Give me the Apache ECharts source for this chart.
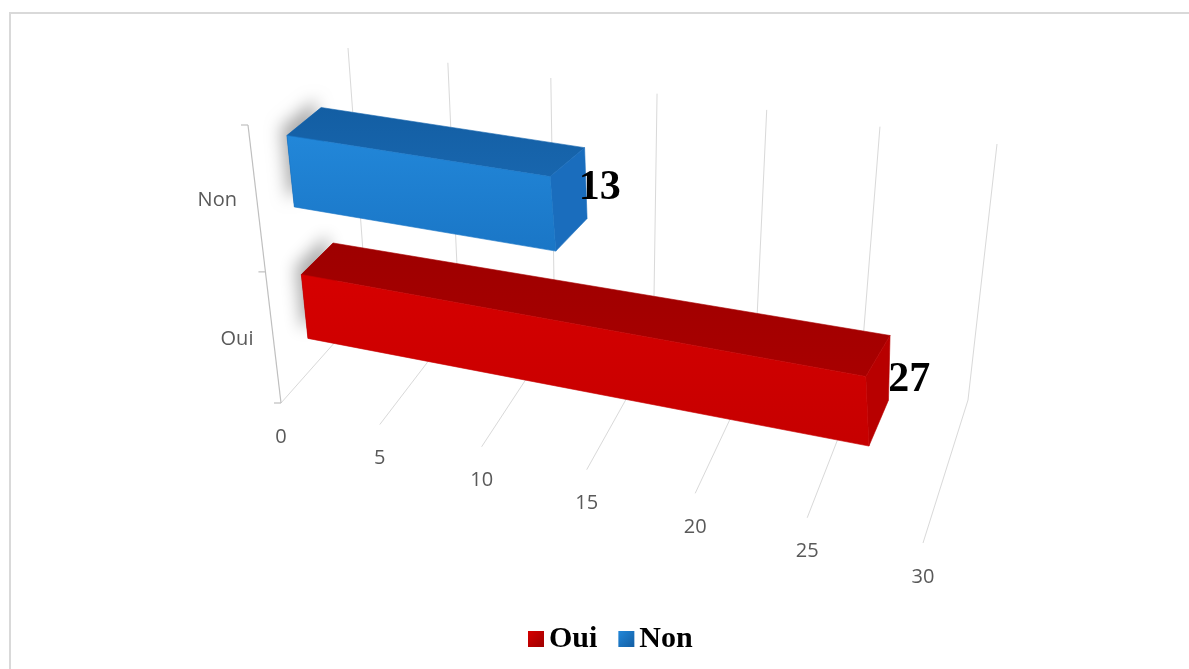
<!DOCTYPE html>
<html>
<head>
<meta charset="utf-8">
<script src="https://cdn.jsdelivr.net/npm/echarts@6/dist/echarts.min.js"></script>
<style>
  html, body { margin: 0; padding: 0; background: #ffffff; }
  #chart { width: 1189px; height: 669px; }
</style>
</head>
<body>
<div id="chart"></div>
<script>
// ---- data ----
const categories = ['Oui', 'Non'];
const values = [27, 13];
const valueTicks = [0, 5, 10, 15, 20, 25, 30];

// ---- look ----
const PALETTE = [
  { legend: '#c40000', front: ['#d60000', '#c60000'], top: ['#9e0000', '#a80000'], end: '#b80000' },
  { legend: '#1f7fd2', front: ['#2287d9', '#1a76c6'], top: ['#135ea3', '#1866ae'], end: '#1a6dbd' }
];
const AXIS_FONT = '20px "Open Sans", sans-serif';
const LABEL_FONT = 'bold 42px "Liberation Serif", "Times New Roman", serif';

// Screen positions of the eight corners of the 3D plot box.
// u: along the value axis (0..1), d: depth (0 front, 1 back wall), h: height (0 floor, 1 top).
const BOX = {
  u0d0h0: [281, 403], u0d0h1: [248, 125], u0d1h0: [367, 306], u0d1h1: [348, 48],
  u1d0h0: [923, 543], u1d0h1: [890, 222], u1d1h0: [968, 400], u1d1h1: [997, 144]
};
const DEPTH_U = 1.1;   // foreshortening along the value axis
const DEPTH_H = 1.12;  // foreshortening along the category axis
const BAR_FILL = 0.5;  // share of a category band taken by its bar
const BAR_DEPTH = [0.35, 0.7];

function foreshorten(t, k) { return t / (k - (k - 1) * t); }

function project(u, d, h) {
  const s = foreshorten(u, DEPTH_U);
  const t = foreshorten(h, DEPTH_H);
  const b = BOX;
  const terms = [
    [(1 - s) * (1 - d) * (1 - t), b.u0d0h0],
    [(1 - s) * (1 - d) * t, b.u0d0h1],
    [(1 - s) * d * (1 - t), b.u0d1h0],
    [(1 - s) * d * t, b.u0d1h1],
    [s * (1 - d) * (1 - t), b.u1d0h0],
    [s * (1 - d) * t, b.u1d0h1],
    [s * d * (1 - t), b.u1d1h0],
    [s * d * t, b.u1d1h1]
  ];
  let x = 0, y = 0;
  terms.forEach(([w, p]) => { x += w * p[0]; y += w * p[1]; });
  return [x, y];
}

// grid pixel -> unit box coordinates
function toUnit(cs, pt) {
  return [(pt[0] - cs.x) / cs.width, (cs.y + cs.height - pt[1]) / cs.height];
}

function renderValueGrid(params, api) {
  const cs = params.coordSys;
  const v = api.value(0);
  const u = toUnit(cs, api.coord([v, 0]))[0];
  const lineStyle = { stroke: '#d9d9d9', lineWidth: 1, fill: null };
  const base = project(u, 0, 0);
  return {
    type: 'group',
    children: [
      { type: 'polyline', shape: { points: [project(u, 1, 0), project(u, 1, 1)] }, style: lineStyle },
      { type: 'polyline', shape: { points: [base, project(u, 1, 0)] }, style: lineStyle },
      {
        type: 'text', x: base[0], y: base[1] + 34,
        style: { text: String(v), font: AXIS_FONT, fill: '#595959', align: 'center', verticalAlign: 'middle' }
      }
    ]
  };
}

function renderCategoryAxis(params, api) {
  const cs = params.coordSys;
  const idx = api.value(1);
  const hc = toUnit(cs, api.coord([0, idx]))[1];
  const half = api.size([0, 1])[1] / 2 / cs.height;
  const axisStyle = { stroke: '#bfbfbf', lineWidth: 1.2, fill: null };
  const tick = (h) => {
    const p = project(0, 0, h);
    return { type: 'polyline', shape: { points: [[p[0] - 7, p[1]], p] }, style: axisStyle };
  };
  const lp = project(0, 0, hc);
  const children = [
    tick(hc - half),
    {
      type: 'text', x: lp[0] - 20, y: lp[1],
      style: { text: categories[idx], font: AXIS_FONT, fill: '#595959', align: 'right', verticalAlign: 'middle' }
    }
  ];
  if (params.dataIndex === 0) {
    children.push({ type: 'polyline', shape: { points: [project(0, 0, 0), project(0, 0, 1)] }, style: axisStyle });
  }
  if (idx === categories.length - 1) {
    children.push(tick(hc + half));
  }
  return { type: 'group', children };
}

function vGrad(colors) {
  return new echarts.graphic.LinearGradient(0, 0, 0, 1, [
    { offset: 0, color: colors[0] }, { offset: 1, color: colors[1] }
  ]);
}

function renderBar(params, api) {
  const cs = params.coordSys;
  const v = api.value(0);
  const idx = api.value(1);
  const u0 = toUnit(cs, api.coord([0, idx]))[0];
  const end = toUnit(cs, api.coord([v, idx]));
  const u1 = end[0];
  const hc = end[1];
  const half = api.size([0, 1])[1] * BAR_FILL / 2 / cs.height;
  const h0 = hc - half, h1 = hc + half;
  const dF = BAR_DEPTH[0], dB = BAR_DEPTH[1];
  const pal = PALETTE[idx];
  const q = project;

  const frontPts = [q(u0, dF, h0), q(u1, dF, h0), q(u1, dF, h1), q(u0, dF, h1)];
  const topPts = [q(u0, dF, h1), q(u1, dF, h1), q(u1, dB, h1), q(u0, dB, h1)];
  const endPts = [q(u1, dF, h0), q(u1, dB, h0), q(u1, dB, h1), q(u1, dF, h1)];
  const startPts = [q(u0, dF, h0), q(u0, dB, h0), q(u0, dB, h1), q(u0, dF, h1)];
  const anchor = q(u1, (dF + dB) / 2, h0 + 0.65 * (h1 - h0));

  return {
    type: 'group',
    children: [
      {
        type: 'polygon', shape: { points: startPts },
        style: {
          fill: pal.top[0], shadowBlur: 16, shadowColor: 'rgba(0,0,0,0.32)',
          shadowOffsetX: -6, shadowOffsetY: -8
        }
      },
      { type: 'polygon', shape: { points: topPts }, style: { fill: vGrad(pal.top), stroke: pal.top[1], lineWidth: 0.6 } },
      { type: 'polygon', shape: { points: endPts }, style: { fill: pal.end, stroke: pal.end, lineWidth: 0.6 } },
      { type: 'polygon', shape: { points: frontPts }, style: { fill: vGrad(pal.front), stroke: pal.front[1], lineWidth: 0.6 } },
      {
        type: 'text', x: anchor[0] + 10, y: anchor[1],
        style: { text: String(v), font: LABEL_FONT, fill: '#000000', align: 'left', verticalAlign: 'middle' }
      }
    ]
  };
}

const chart = echarts.init(document.getElementById('chart'), null, { renderer: 'canvas' });

const barSeries = categories.map((name, i) => ({
  type: 'custom',
  name: name,
  coordinateSystem: 'cartesian2d',
  encode: { x: 0, y: 1 },
  data: [[values[i], i]],
  itemStyle: { color: PALETTE[i].legend },
  renderItem: renderBar,
  z: 3
}));

chart.setOption({
  animation: false,
  backgroundColor: '#ffffff',
  grid: { left: 0, right: 0, top: 0, bottom: 0, show: false },
  xAxis: { type: 'value', min: 0, max: 30, interval: 5, show: false },
  yAxis: { type: 'category', data: categories, show: false },
  legend: {
    data: categories.map((name, i) => ({
      name,
      itemStyle: {
        color: new echarts.graphic.LinearGradient(0, 0, 1, 1, [
          { offset: 0, color: PALETTE[i].front[0] }, { offset: 1, color: PALETTE[i].top[0] }
        ])
      }
    })),
    icon: 'rect',
    left: 523,
    top: 619,
    itemWidth: 16,
    itemHeight: 16,
    itemGap: 21,
    textStyle: { fontFamily: '"Liberation Serif", "Times New Roman", serif', fontSize: 30, fontWeight: 'bold', color: '#000000' },
    selectedMode: false
  },
  graphic: [{
    type: 'polyline',
    shape: { points: [[10, 669], [10, 13], [1189, 13]] },
    style: { stroke: '#d9d9d9', lineWidth: 2, fill: null },
    silent: true
  }],
  series: [
    {
      type: 'custom', name: 'valueGrid', coordinateSystem: 'cartesian2d',
      encode: { x: 0, y: 1 }, data: valueTicks.map(v => [v, 0]),
      renderItem: renderValueGrid, silent: true, z: 1
    },
    {
      type: 'custom', name: 'categoryAxis', coordinateSystem: 'cartesian2d',
      encode: { x: 0, y: 1 }, data: categories.map((c, i) => [0, i]),
      renderItem: renderCategoryAxis, silent: true, z: 1
    },
    ...barSeries
  ]
});
</script>
</body>
</html>
